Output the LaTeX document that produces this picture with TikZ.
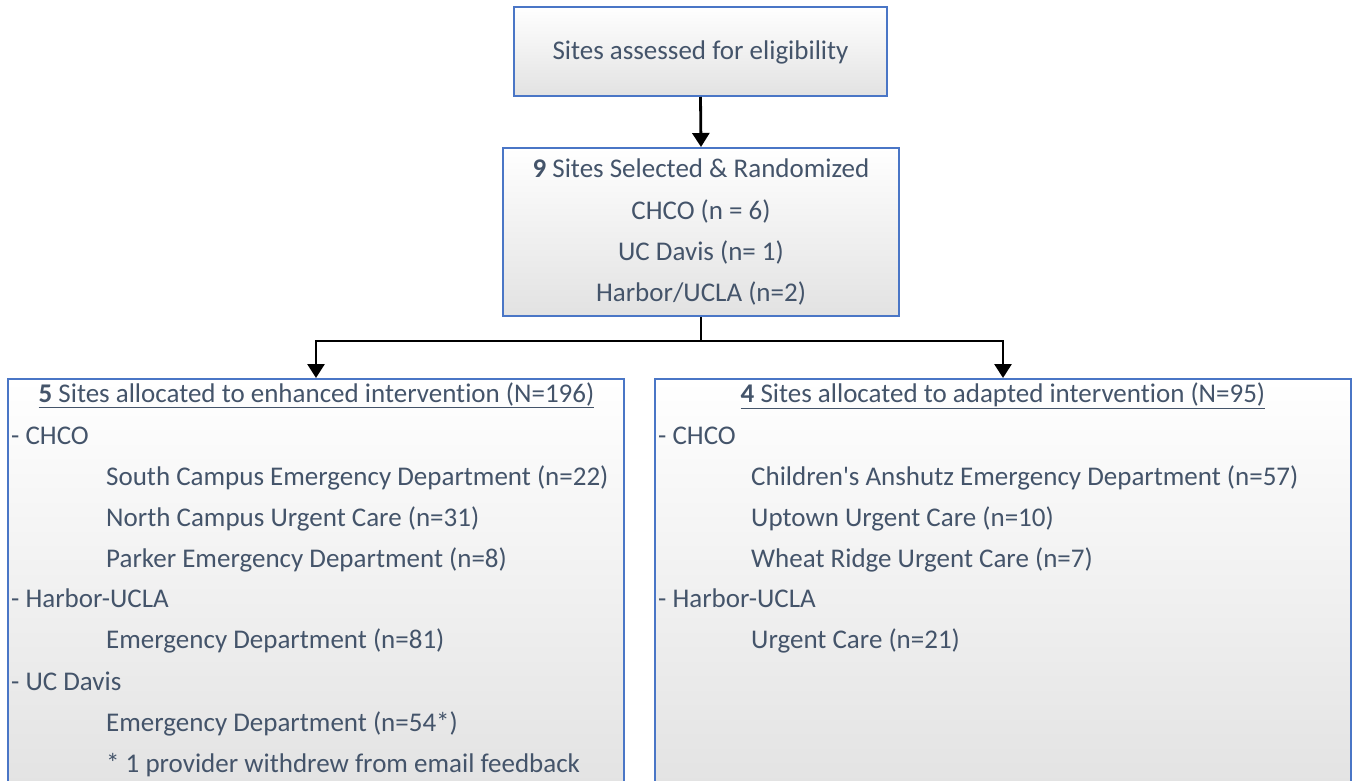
\documentclass[tikz,border=0pt]{standalone}
\usepackage{fontspec}
\setmainfont[Ligatures=NoCommon]{Carlito}
\usetikzlibrary{arrows.meta}
\definecolor{txt}{HTML}{44546A}
\definecolor{bord}{HTML}{4A76C6}
\definecolor{shadebot}{HTML}{E2E2E2}
\tikzset{
  box/.style={draw=bord, line width=2pt, rectangle, inner sep=0pt,
    top color=white, middle color=white, bottom color=shadebot},
  lbl/.style={text=txt, font=\fontsize{27}{32}\selectfont, inner sep=0pt},
  conn/.style={line width=2.8pt, black},
  arr/.style={conn, -{Triangle[width=17pt,length=14pt]}},
}
\begin{document}
\begin{tikzpicture}[x=1pt,y=-1pt]
\clip (0,0) rectangle (1355,781);
% boxes
\node[box, minimum width=373pt, minimum height=89pt] (b1) at (700.5,51.5) {};
\node[box, minimum width=396pt, minimum height=168pt] (b2) at (701,232) {};
\node[box, minimum width=616pt, minimum height=420pt] (L) at (316,589) {};
\node[box, minimum width=696pt, minimum height=420pt] (R) at (1003,589) {};
% connectors
\coordinate (j) at (701,341);
\draw[arr] (b1.south) -- (b2.north);
\draw[conn] (b2.south) -- (j);
\draw[arr] (j) -| (L.north);
\draw[arr] (j) -| (R.north);
% box 1 text
\node[lbl, anchor=base] (t1) at (700.5,60) {Sites assessed for eligibility};
% box 2 text
\node[lbl, anchor=base] (t2a) at (701,177.5) {\textbf{9} Sites Selected \& Randomized};
\node[lbl, anchor=base] (t2b) at (701,219) {CHCO (n = 6)};
\node[lbl, anchor=base] (t2c) at (701,260) {UC Davis (n= 1)};
\node[lbl, anchor=base] (t2d) at (701,301.5) {Harbor/UCLA (n=2)};
% left box text
\node[lbl, anchor=base] (lt) at (316.5,402) {\underline{\textbf{5} Sites allocated to enhanced intervention (N=196)}};
\node[lbl, anchor=base west] (l1) at (11,444) {- CHCO};
\node[lbl, anchor=base west] (l2) at (106,485) {South Campus Emergency Department (n=22)};
\node[lbl, anchor=base west] (l3) at (106,526) {North Campus Urgent Care (n=31)};
\node[lbl, anchor=base west] (l4) at (106,567) {Parker Emergency Department (n=8)};
\node[lbl, anchor=base west] (l5) at (11,607.5) {- Harbor-UCLA};
\node[lbl, anchor=base west] (l6) at (106,648.5) {Emergency Department (n=81)};
\node[lbl, anchor=base west] (l7) at (11,690) {- UC Davis};
\node[lbl, anchor=base west] (l8) at (106,731) {Emergency Department (n=54*)};
\node[lbl, anchor=base west] (l9) at (106,772) {* 1 provider withdrew from email feedback};
% right box text
\node[lbl, anchor=base] (rt) at (1003,402) {\underline{\textbf{4} Sites allocated to adapted intervention (N=95)}};
\node[lbl, anchor=base west] (r1) at (658,444) {- CHCO};
\node[lbl, anchor=base west] (r2) at (751,485) {Children\textquotesingle s Anshutz Emergency Department (n=57)};
\node[lbl, anchor=base west] (r3) at (751,526) {Uptown Urgent Care (n=10)};
\node[lbl, anchor=base west] (r4) at (751,567) {Wheat Ridge Urgent Care (n=7)};
\node[lbl, anchor=base west] (r5) at (658,607.5) {- Harbor-UCLA};
\node[lbl, anchor=base west] (r6) at (751,648.5) {Urgent Care (n=21)};
\end{tikzpicture}
\end{document}
